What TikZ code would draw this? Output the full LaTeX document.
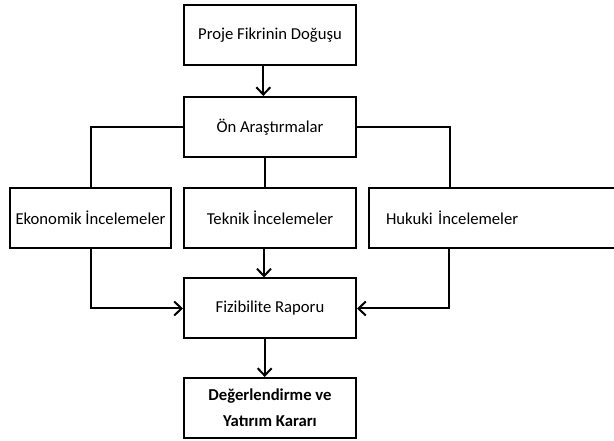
\documentclass[tikz,border=0pt]{standalone}
\usepackage{fontspec}
\setmainfont{Carlito}
\usetikzlibrary{arrows.meta}
\tikzset{
	kutu/.style={draw,line width=1.5pt,minimum width=129pt,minimum height=45pt,inner sep=2pt,align=center,font=\fontsize{12.5}{16}\selectfont},
	ok/.style={line width=1.5pt,-{Straight Barb[length=5.5pt,width=10.5pt]}},
	cizgi/.style={line width=1.5pt}
}
\begin{document}
\begin{tikzpicture}[x=0.75pt,y=-0.75pt]
		\useasboundingbox (0,0) rectangle (614,441);
		\node[kutu] (proje) at (270,35) {Proje Fikrinin Doğuşu};
		\node[kutu] (on) at (270,127) {Ön Araştırmalar};
		\node[kutu,minimum width=120.75pt] (eko) at (90.5,218) {Ekonomik İncelemeler};
		\node[kutu,text width=162.75pt,align=left,inner xsep=12.75pt] (huk) at (494.5,218) {Hukuki İncelemeler};
		\node[kutu] (tek) at (270,218) {Teknik İncelemeler};
		\node[kutu] (fiz) at (270,308.5) {Fizibilite Raporu};
		\node[kutu,font=\fontsize{12.5}{19.5}\selectfont\bfseries] (karar) at (270,408) {Değerlendirme ve\\Yatırım Kararı};
		%bağlantılar
		\draw[ok] ([xshift=-5pt]proje.south)--([xshift=-5pt]on.north);
		\draw[cizgi] (on.west) -| (eko.north);
		\draw[cizgi] ([xshift=-4pt]on.south)--([xshift=-4pt]tek.north);
		\draw[cizgi] (on.east) -| ([xshift=-33.4pt]huk.north);
		\draw[ok] ([xshift=-4.5pt]tek.south)--([xshift=-4.5pt]fiz.north);
		\draw[ok] (eko.south) |- (fiz.west);
		\draw[ok] ([xshift=-34pt]huk.south) |- (fiz.east);
		\draw[ok] ([xshift=-4pt]fiz.south)--([xshift=-4pt]karar.north);
\end{tikzpicture}
\end{document}
